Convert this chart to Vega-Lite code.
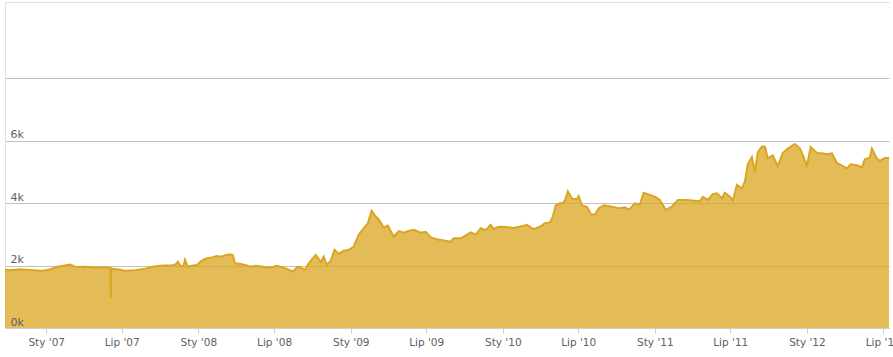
{
  "$schema": "https://vega.github.io/schema/vega-lite/v6.json",
  "width": 884,
  "height": 326,
  "autosize": {"type": "none"},
  "padding": {"left": 5, "top": 2, "right": 4, "bottom": 29},
  "background": "white",
  "config": {"view": {"stroke": null}, "font": "DejaVu Sans"},
  "data": {
    "format": {"parse": {"d": "utc:'%Y-%m-%d'"}},
    "values": [
      {"d": "2006-09-24", "v": 1870}, {"d": "2006-10-05", "v": 1850}, {"d": "2006-10-29", "v": 1880},
      {"d": "2006-11-23", "v": 1860}, {"d": "2006-12-11", "v": 1840}, {"d": "2006-12-23", "v": 1830},
      {"d": "2007-01-09", "v": 1870}, {"d": "2007-01-29", "v": 1960}, {"d": "2007-02-15", "v": 2000},
      {"d": "2007-02-27", "v": 2030}, {"d": "2007-03-15", "v": 1950}, {"d": "2007-04-04", "v": 1960},
      {"d": "2007-05-02", "v": 1930}, {"d": "2007-05-19", "v": 1940}, {"d": "2007-06-04", "v": 1920},
      {"d": "2007-06-05", "v": 960}, {"d": "2007-06-06", "v": 1900}, {"d": "2007-06-20", "v": 1880},
      {"d": "2007-07-09", "v": 1830}, {"d": "2007-08-02", "v": 1850}, {"d": "2007-08-26", "v": 1900},
      {"d": "2007-09-14", "v": 1960}, {"d": "2007-10-01", "v": 1990}, {"d": "2007-10-17", "v": 2000},
      {"d": "2007-11-01", "v": 2010}, {"d": "2007-11-08", "v": 2040}, {"d": "2007-11-13", "v": 2120},
      {"d": "2007-11-20", "v": 1970}, {"d": "2007-11-27", "v": 2000}, {"d": "2007-11-30", "v": 2180},
      {"d": "2007-12-07", "v": 1960}, {"d": "2007-12-19", "v": 2000}, {"d": "2007-12-29", "v": 2020},
      {"d": "2008-01-07", "v": 2130}, {"d": "2008-01-21", "v": 2230}, {"d": "2008-02-03", "v": 2260},
      {"d": "2008-02-14", "v": 2300}, {"d": "2008-02-24", "v": 2280}, {"d": "2008-03-07", "v": 2330},
      {"d": "2008-03-17", "v": 2360}, {"d": "2008-03-24", "v": 2330}, {"d": "2008-03-29", "v": 2070},
      {"d": "2008-04-12", "v": 2050}, {"d": "2008-04-26", "v": 2000}, {"d": "2008-05-06", "v": 1960},
      {"d": "2008-05-18", "v": 1990}, {"d": "2008-06-04", "v": 1960}, {"d": "2008-06-21", "v": 1930},
      {"d": "2008-07-08", "v": 1990}, {"d": "2008-07-29", "v": 1910}, {"d": "2008-08-15", "v": 1800},
      {"d": "2008-08-27", "v": 1960}, {"d": "2008-09-03", "v": 1930}, {"d": "2008-09-13", "v": 1860},
      {"d": "2008-09-22", "v": 2070}, {"d": "2008-10-09", "v": 2340}, {"d": "2008-10-21", "v": 2110},
      {"d": "2008-10-28", "v": 2280}, {"d": "2008-11-04", "v": 2020}, {"d": "2008-11-14", "v": 2150},
      {"d": "2008-11-23", "v": 2500}, {"d": "2008-12-03", "v": 2370}, {"d": "2008-12-15", "v": 2470},
      {"d": "2008-12-27", "v": 2500}, {"d": "2009-01-08", "v": 2600}, {"d": "2009-01-20", "v": 2980},
      {"d": "2009-02-01", "v": 3190}, {"d": "2009-02-11", "v": 3350}, {"d": "2009-02-20", "v": 3750},
      {"d": "2009-02-28", "v": 3600}, {"d": "2009-03-09", "v": 3480}, {"d": "2009-03-21", "v": 3220},
      {"d": "2009-03-31", "v": 3280}, {"d": "2009-04-14", "v": 2920}, {"d": "2009-04-26", "v": 3100},
      {"d": "2009-05-08", "v": 3050}, {"d": "2009-05-18", "v": 3100}, {"d": "2009-06-01", "v": 3140},
      {"d": "2009-06-18", "v": 3050}, {"d": "2009-06-30", "v": 3080}, {"d": "2009-07-12", "v": 2900},
      {"d": "2009-07-26", "v": 2840}, {"d": "2009-08-12", "v": 2800}, {"d": "2009-08-29", "v": 2760},
      {"d": "2009-09-05", "v": 2870}, {"d": "2009-09-22", "v": 2870}, {"d": "2009-10-06", "v": 2980},
      {"d": "2009-10-16", "v": 3060}, {"d": "2009-10-28", "v": 2990}, {"d": "2009-11-09", "v": 3190},
      {"d": "2009-11-21", "v": 3130}, {"d": "2009-12-03", "v": 3300}, {"d": "2009-12-10", "v": 3170},
      {"d": "2009-12-22", "v": 3240}, {"d": "2010-01-08", "v": 3230}, {"d": "2010-01-25", "v": 3200},
      {"d": "2010-02-11", "v": 3240}, {"d": "2010-02-28", "v": 3300}, {"d": "2010-03-16", "v": 3160},
      {"d": "2010-03-31", "v": 3240}, {"d": "2010-04-12", "v": 3350}, {"d": "2010-04-24", "v": 3380},
      {"d": "2010-05-01", "v": 3560}, {"d": "2010-05-08", "v": 3920}, {"d": "2010-05-18", "v": 3990},
      {"d": "2010-05-25", "v": 4000}, {"d": "2010-05-30", "v": 4070}, {"d": "2010-06-06", "v": 4370},
      {"d": "2010-06-16", "v": 4140}, {"d": "2010-06-28", "v": 4130}, {"d": "2010-07-02", "v": 4220},
      {"d": "2010-07-10", "v": 3920}, {"d": "2010-07-22", "v": 3880}, {"d": "2010-08-01", "v": 3630},
      {"d": "2010-08-10", "v": 3640}, {"d": "2010-08-20", "v": 3840}, {"d": "2010-09-01", "v": 3930},
      {"d": "2010-09-20", "v": 3880}, {"d": "2010-10-06", "v": 3830}, {"d": "2010-10-21", "v": 3860},
      {"d": "2010-10-31", "v": 3790}, {"d": "2010-11-14", "v": 3990}, {"d": "2010-11-26", "v": 3950},
      {"d": "2010-12-05", "v": 4330}, {"d": "2010-12-20", "v": 4260}, {"d": "2011-01-01", "v": 4200},
      {"d": "2011-01-13", "v": 4100}, {"d": "2011-01-27", "v": 3780}, {"d": "2011-02-11", "v": 3880},
      {"d": "2011-02-25", "v": 4100}, {"d": "2011-03-19", "v": 4100}, {"d": "2011-04-07", "v": 4070},
      {"d": "2011-04-19", "v": 4060}, {"d": "2011-04-26", "v": 4200}, {"d": "2011-05-08", "v": 4100},
      {"d": "2011-05-20", "v": 4280}, {"d": "2011-05-30", "v": 4310}, {"d": "2011-06-11", "v": 4150},
      {"d": "2011-06-18", "v": 4330}, {"d": "2011-06-30", "v": 4200}, {"d": "2011-07-07", "v": 4080},
      {"d": "2011-07-17", "v": 4580}, {"d": "2011-07-29", "v": 4470}, {"d": "2011-08-05", "v": 4680},
      {"d": "2011-08-12", "v": 5240}, {"d": "2011-08-22", "v": 5470}, {"d": "2011-08-29", "v": 5000},
      {"d": "2011-09-05", "v": 5620}, {"d": "2011-09-15", "v": 5810}, {"d": "2011-09-22", "v": 5800},
      {"d": "2011-09-29", "v": 5430}, {"d": "2011-10-11", "v": 5520}, {"d": "2011-10-23", "v": 5180},
      {"d": "2011-11-04", "v": 5600}, {"d": "2011-11-16", "v": 5740}, {"d": "2011-12-03", "v": 5890},
      {"d": "2011-12-15", "v": 5750}, {"d": "2011-12-22", "v": 5540}, {"d": "2012-01-01", "v": 5200},
      {"d": "2012-01-10", "v": 5790}, {"d": "2012-01-25", "v": 5600}, {"d": "2012-02-06", "v": 5590},
      {"d": "2012-02-18", "v": 5560}, {"d": "2012-03-01", "v": 5590}, {"d": "2012-03-13", "v": 5280},
      {"d": "2012-03-27", "v": 5180}, {"d": "2012-04-06", "v": 5110}, {"d": "2012-04-15", "v": 5240},
      {"d": "2012-05-02", "v": 5200}, {"d": "2012-05-12", "v": 5140}, {"d": "2012-05-19", "v": 5400},
      {"d": "2012-05-31", "v": 5450}, {"d": "2012-06-05", "v": 5740}, {"d": "2012-06-17", "v": 5420},
      {"d": "2012-06-24", "v": 5350}, {"d": "2012-07-06", "v": 5440}, {"d": "2012-07-16", "v": 5440}
    ]
  },
  "layer": [
    {
      "mark": {"type": "area", "color": "#DAA520", "opacity": 0.75, "clip": true},
      "encoding": {
        "x": {
          "field": "d", "type": "temporal",
          "scale": {"type": "utc", "domain": [{"year": 2006, "month": 9, "date": 24, "utc": true}, {"year": 2012, "month": 7, "date": 16, "utc": true}]},
          "axis": {
            "orient": "bottom", "title": null, "grid": false, "zindex": 1,
            "values": [
              {"year": 2007, "month": 1, "date": 1, "utc": true}, {"year": 2007, "month": 7, "date": 1, "utc": true},
              {"year": 2008, "month": 1, "date": 1, "utc": true}, {"year": 2008, "month": 7, "date": 1, "utc": true},
              {"year": 2009, "month": 1, "date": 1, "utc": true}, {"year": 2009, "month": 7, "date": 1, "utc": true},
              {"year": 2010, "month": 1, "date": 1, "utc": true}, {"year": 2010, "month": 7, "date": 1, "utc": true},
              {"year": 2011, "month": 1, "date": 1, "utc": true}, {"year": 2011, "month": 7, "date": 1, "utc": true},
              {"year": 2012, "month": 1, "date": 1, "utc": true}, {"year": 2012, "month": 7, "date": 1, "utc": true}
            ],
            "labelExpr": "(utcmonth(datum.value) == 0 ? 'Sty' : 'Lip') + \" '\" + utcFormat(datum.value, '%y')",
            "labelFlush": false, "labelOverlap": false, "labelBound": false,
            "labelFont": "DejaVu Sans", "labelFontSize": 10.5, "labelColor": "#606060", "labelPadding": 4,
            "domainColor": "#C0D0E0", "domainWidth": 1,
            "tickColor": "#C0D0E0", "tickSize": 5, "tickWidth": 1
          }
        },
        "y": {
          "field": "v", "type": "quantitative",
          "scale": {"domain": [0, 10432], "nice": false, "zero": true},
          "axis": {
            "orient": "left", "title": null, "values": [0, 2000, 4000, 6000, 8000],
            "grid": true, "gridColor": "#C0C0C0", "gridWidth": 1, "zindex": 0,
            "ticks": false, "labels": false, "domain": true, "domainColor": "#E0E0E0"
          }
        }
      }
    },
    {
      "mark": {"type": "line", "color": "#DAA520", "strokeWidth": 2, "clip": true},
      "encoding": {
        "x": {
          "field": "d", "type": "temporal",
          "axis": {"orient": "top", "title": null, "labels": false, "ticks": false, "grid": false, "domainColor": "#E0E0E0"}
        },
        "y": {
          "field": "v", "type": "quantitative",
          "axis": {
            "orient": "left", "title": null, "values": [0, 2000, 4000, 6000],
            "labelExpr": "(datum.value / 1000) + 'k'",
            "grid": false, "ticks": false, "domain": false, "zindex": 2,
            "labelAlign": "left", "labelBaseline": "alphabetic", "labelPadding": -5, "labelOffset": -3,
            "labelFont": "DejaVu Sans", "labelFontSize": 11, "labelColor": "#606060",
            "labelOverlap": false, "labelFlush": false, "labelBound": false
          }
        }
      }
    }
  ],
  "resolve": {"axis": {"x": "independent", "y": "independent"}}
}
